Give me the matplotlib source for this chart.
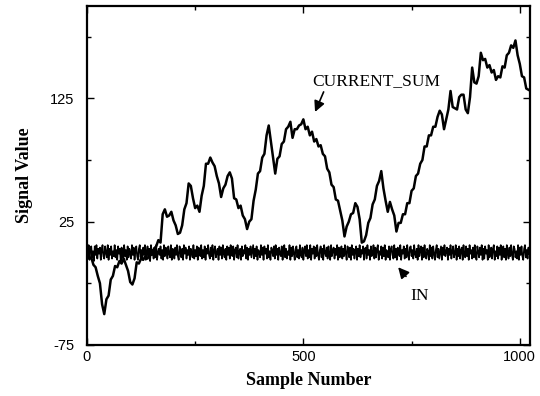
import numpy as np
import matplotlib
matplotlib.use("Agg")
import matplotlib.pyplot as plt

plt.rcParams["axes.unicode_minus"] = False

current_sum = [
    -2, -5, -4, -10, -12, -19, -25, -42, -50, -38, -35, -22, -19, -11, -12, -7,
    -9, -5, -10, -15, -24, -26, -21, -8, -9, -5, -6, -3, -5, -1, -2, 3,
    5, 10, 8, 31, 35, 29, 30, 33, 26, 22, 15, 16, 22, 35, 40, 56,
    54, 44, 36, 38, 33, 46, 54, 72, 72, 77, 73, 70, 62, 56, 45, 52,
    55, 62, 65, 60, 44, 43, 36, 38, 30, 27, 19, 25, 27, 42, 51, 64,
    66, 77, 80, 95, 103, 90, 77, 64, 76, 78, 88, 90, 100, 102, 106, 93,
    100, 100, 103, 104, 108, 100, 102, 95, 98, 90, 92, 86, 87, 80, 78, 68,
    65, 55, 53, 43, 42, 34, 26, 13, 21, 25, 31, 32, 40, 37, 27, 8,
    9, 14, 24, 28, 39, 43, 54, 58, 66, 52, 42, 33, 41, 35, 30, 17,
    24, 24, 31, 31, 40, 40, 50, 52, 62, 64, 72, 75, 86, 86, 95, 95,
    102, 102, 110, 115, 112, 100, 108, 116, 131, 118, 117, 116, 126, 128, 128, 116,
    113, 126, 150, 138, 137, 143, 162, 156, 157, 150, 152, 146, 148, 140, 143, 142,
    151, 150, 160, 162, 168, 166, 172, 160, 153, 143, 142, 133, 132,
]
current_step = 5

# IN signal sampled every 2 samples (hand-estimated band around zero)
in_signal = [
    4, -3, 6, -6, 2, 5, -4, 1, -7, 5, -2, 6, -5, 3, -1, 4, -6, 2, 6, -3, -5, 5, 0, -4, 6, -6, 3, -2, 5, -5, 1, -3,
    6, -4, 2, -6, 5, -1, 3, -7, 4, 1, -5, 6, -3, 2, -6, 5, -4, 3, 0, -5, 6, -2, 4, -6, 1, 5, -3, -6, 3, 6, -4, 2,
    -5, 4, -2, 6, -6, 1, 5, -3, 3, -7, 6, -1, 2, -5, 4, -4, 6, -6, 0, 3, -2, 5, -5, 2, -6, 6, -3, 4, 1, -5, 5, -1,
    -4, 6, -6, 3, 2, -5, 4, -2, 6, -3, -6, 5, 1, -4, 3, -6, 6, -1, 4, -5, 2, -2, 5, -6, 3, 0, -4, 6, -5, 2, -3, 5,
    -6, 4, 1, -3, 6, -5, 2, -4, 5, -6, 3, -1, 6, -2, -5, 4, -3, 6, -6, 2, 5, -4, 0, 3, -6, 5, -2, 4, -5, 6, -1, -4,
    3, -6, 5, -2, 4, -5, 6, -1, -3, 5, -6, 2, 4, -4, 6, -5, 1, 3, -6, 5, -3, 2, -1, 6, -5, 4, -6, 3, -2, 5, -4, 1,
    6, -5, 3, -3, 5, -6, 2, 0, -4, 6, -2, 4, -6, 5, -1, 3, -5, 6, -4, 1, -6, 4, 2, -3, 5, -5, 6, -2, 3, -6, 4, -1,
    -3, 5, -6, 2, 6, -4, 3, -5, 1, -2, 6, -6, 4, -3, 5, -1, -6, 3, 5, -4, 2, -5, 6, -2, -4, 4, -6, 1, 5, -3, 6, -5,
    2, -4, 6, -6, 3, -1, 5, -5, 4, -3, 6, -2, -6, 2, 5, -4, 3, -6, 6, 0, -3, 4, -5, 5, -1, -6, 6, -3, 2, 4, -5, 3,
    -2, 6, -6, 4, -4, 1, 5, -5, 3, -3, 6, -1, -6, 5, 2, -4, 4, -6, 6, -2, 3, -5, 1, 5, -6, 3, -3, 6, -4, 2, -1, 5,
    -6, 3, 4, -5, 6, -2, 2, -6, 5, -3, -1, 6, -5, 4, -4, 3, 6, -6, 1, -2, 5, -5, 4, -3, 6, -6, 2, 0, -4, 5, -6, 3,
    5, -2, -5, 6, -4, 3, -6, 4, 1, -3, 6, -6, 2, -1, 5, -5, 3, -4, 6, -2, -6, 4, 5, -3, 2, -5, 6, -1, -4, 3, -6, 6,
    -3, 2, 5, -6, 4, -4, 6, -2, -5, 3, 1, -6, 6, -3, 4, -5, 5, -1, -6, 2, 6, -4, 3, -5, 0, 5, -6, 4, -2, 6, -3, 1,
    4, -6, 3, -2, 6, -5, 1, 5, -4, -1, 6, -6, 3, -3, 5, -5, 2, 4, -6, 6, -2, -4, 5, -3, 3, -6, 6, -1, 2, -5, 4, -4,
    6, -3, -6, 5, 1, -4, 4, -2, 6, -6, 3, -5, 5, -1, 2, -6, 6, -4, -2, 4, -5, 3, 6, -6, 1, -3, 5, -5, 4, -2, 6, -6,
    2, 5, -4, 3, -6, 6, -1, -5, 4, -3, 6, -2, -6, 5, 3, -4, 1, -5, 6, -6, 4, -2, 5, -3, -6, 3, 6, -4, 2, -5, 4, -1,
]
in_step = 2

x_major = [0, 500, 1000]
y_major = [-75, 25, 125]
x_minor = [250, 750]
y_minor = [-25, 75, 175]

fig = plt.figure(figsize=(5.4, 3.96), dpi=100)
ax = fig.add_axes([0.161, 0.129, 0.82, 0.856])

x_cs = np.arange(len(current_sum)) * current_step
x_in = np.arange(len(in_signal)) * in_step
ax.plot(x_in, in_signal, color="black", lw=1.2)
ax.plot(x_cs, current_sum, color="black", lw=1.8)

ax.set_xlim(0, 1023)
ax.set_ylim(-75, 200)
ax.set_xticks(x_major)
ax.set_yticks(y_major)
ax.set_xticks(x_minor, minor=True)
ax.set_yticks(y_minor, minor=True)
ax.tick_params(which="both", direction="in", top=True, right=True, width=1)
ax.tick_params(which="major", length=5)
ax.tick_params(which="minor", length=3)
ax.tick_params(axis="y", which="major", pad=9)
for lab in ax.get_xticklabels() + ax.get_yticklabels():
    lab.set_family("Liberation Sans")
    lab.set_fontsize(10.5)
for s in ax.spines.values():
    s.set_linewidth(1.6)

ax.set_xlabel("Sample Number", family="Liberation Serif", fontweight="bold", fontsize=13, labelpad=6)
ax.set_ylabel("Signal Value", family="Liberation Serif", fontweight="bold", fontsize=13, labelpad=12)

ax.annotate("CURRENT_SUM", xy=(527, 114), xytext=(520, 139), family="Liberation Serif",
            fontsize=12.5, va="center", ha="left",
            arrowprops=dict(arrowstyle="-|>", color="black", lw=1.2, mutation_scale=16,
                            shrinkA=0, shrinkB=0, relpos=(0.1, 0.0)))
ax.annotate("IN", xy=(719, -12), xytext=(768, -35), family="Liberation Serif",
            fontsize=12.5, va="center", ha="center",
            arrowprops=dict(arrowstyle="-|>", color="black", lw=1.2, mutation_scale=16,
                            shrinkA=8, shrinkB=0, relpos=(0.3, 1.0)))

fig.savefig("out.png", dpi=100)
